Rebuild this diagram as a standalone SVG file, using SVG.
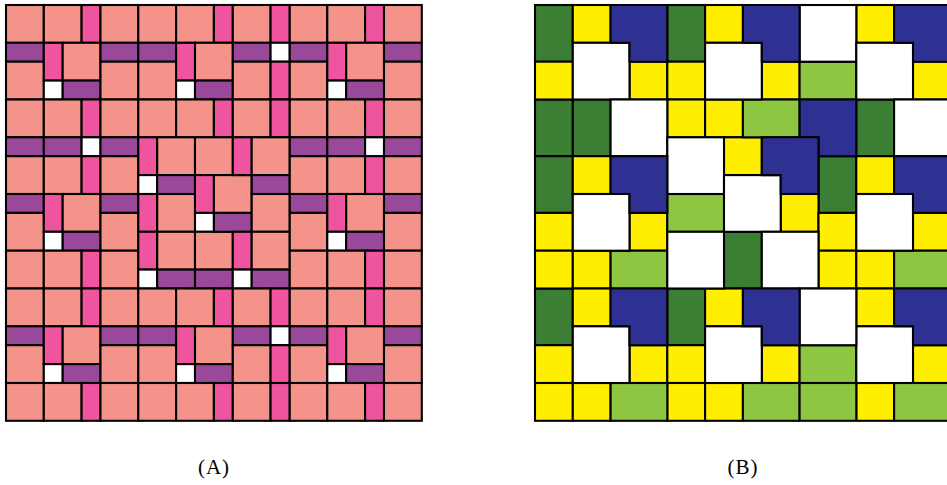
<svg xmlns="http://www.w3.org/2000/svg" xmlns:xlink="http://www.w3.org/1999/xlink" width="947" height="485" viewBox="0 0 947 485">
<style>
.t{stroke:#000;stroke-width:0.11;stroke-linejoin:miter}
.lbl{font-family:"Liberation Serif","DejaVu Serif",serif;font-size:21px;letter-spacing:1px;fill:#000;text-anchor:middle}
</style>
<defs>
<rect id="S" class="t" width="2" height="2" fill="#F4938A"/>
<rect id="P" class="t" width="1" height="2" fill="#EE559E"/>
<rect id="U" class="t" width="2" height="1" fill="#9A4899"/>
<rect id="W" class="t" width="1" height="1" fill="#FFFFFF"/>
<rect id="Y" class="t" width="2" height="2" fill="#FFEE00"/>
<rect id="G" class="t" width="2" height="3" fill="#3B7E34"/>
<rect id="LG" class="t" width="3" height="2" fill="#8DC641"/>
<rect id="WB" class="t" width="3" height="3" fill="#FFFFFF"/>
<path id="BL" class="t" d="M0 0H3V3H1V2H0Z" fill="#2E3192"/>
</defs>
<rect width="947" height="485" fill="#FFFFFF"/>

<g id="panelA" transform="translate(6,5) scale(18.9)">
  <g id="colL">
    <use href="#S" x="0" y="0"/><use href="#S" x="2" y="0"/><use href="#P" x="4" y="0"/><use href="#S" x="5" y="0"/>
    <use href="#U" x="0" y="2"/><use href="#S" x="0" y="3"/><use href="#P" x="2" y="2"/><use href="#W" x="2" y="4"/><use href="#S" x="3" y="2"/><use href="#U" x="3" y="4"/><use href="#U" x="5" y="2"/><use href="#S" x="5" y="3"/>
    <use href="#S" x="0" y="5"/><use href="#S" x="2" y="5"/><use href="#P" x="4" y="5"/><use href="#S" x="5" y="5"/>
    <use href="#U" x="0" y="7"/><use href="#U" x="2" y="7"/><use href="#W" x="4" y="7"/><use href="#U" x="5" y="7"/>
    <use href="#S" x="0" y="8"/><use href="#S" x="2" y="8"/><use href="#P" x="4" y="8"/><use href="#S" x="5" y="8"/>
    <use href="#U" x="0" y="10"/><use href="#S" x="0" y="11"/><use href="#P" x="2" y="10"/><use href="#W" x="2" y="12"/><use href="#S" x="3" y="10"/><use href="#U" x="3" y="12"/><use href="#U" x="5" y="10"/><use href="#S" x="5" y="11"/>
    <use href="#S" x="0" y="13"/><use href="#S" x="2" y="13"/><use href="#P" x="4" y="13"/><use href="#S" x="5" y="13"/>
    <use href="#S" x="0" y="15"/><use href="#S" x="2" y="15"/><use href="#P" x="4" y="15"/><use href="#S" x="5" y="15"/>
    <use href="#U" x="0" y="17"/><use href="#S" x="0" y="18"/><use href="#P" x="2" y="17"/><use href="#W" x="2" y="19"/><use href="#S" x="3" y="17"/><use href="#U" x="3" y="19"/><use href="#U" x="5" y="17"/><use href="#S" x="5" y="18"/>
    <use href="#S" x="0" y="20"/><use href="#S" x="2" y="20"/><use href="#P" x="4" y="20"/><use href="#S" x="5" y="20"/>
  </g>
  <use href="#colL" transform="translate(15,0)"/>
  <g id="colM">
    <use href="#S" x="7" y="0"/><use href="#S" x="9" y="0"/><use href="#P" x="11" y="0"/><use href="#S" x="12" y="0"/><use href="#P" x="14" y="0"/>
    <use href="#U" x="7" y="2"/><use href="#S" x="7" y="3"/><use href="#P" x="9" y="2"/><use href="#W" x="9" y="4"/><use href="#S" x="10" y="2"/><use href="#U" x="10" y="4"/><use href="#U" x="12" y="2"/><use href="#S" x="12" y="3"/><use href="#W" x="14" y="2"/><use href="#P" x="14" y="3"/>
    <use href="#S" x="7" y="5"/><use href="#S" x="9" y="5"/><use href="#P" x="11" y="5"/><use href="#S" x="12" y="5"/><use href="#P" x="14" y="5"/>
    <use href="#P" x="7" y="7"/><use href="#W" x="7" y="9"/><use href="#P" x="7" y="10"/><use href="#P" x="7" y="12"/><use href="#W" x="7" y="14"/>
    <use href="#S" x="8" y="7"/><use href="#U" x="8" y="9"/><use href="#S" x="8" y="10"/><use href="#S" x="8" y="12"/><use href="#U" x="8" y="14"/>
    <use href="#S" x="10" y="7"/><use href="#P" x="10" y="9"/><use href="#W" x="10" y="11"/><use href="#S" x="10" y="12"/><use href="#U" x="10" y="14"/>
    <use href="#S" x="11" y="9"/><use href="#U" x="11" y="11"/>
    <use href="#P" x="12" y="7"/><use href="#P" x="12" y="12"/><use href="#W" x="12" y="14"/>
    <use href="#S" x="13" y="7"/><use href="#U" x="13" y="9"/><use href="#S" x="13" y="10"/><use href="#S" x="13" y="12"/><use href="#U" x="13" y="14"/>
    <use href="#S" x="7" y="15"/><use href="#S" x="9" y="15"/><use href="#P" x="11" y="15"/><use href="#S" x="12" y="15"/><use href="#P" x="14" y="15"/>
    <use href="#U" x="7" y="17"/><use href="#S" x="7" y="18"/><use href="#P" x="9" y="17"/><use href="#W" x="9" y="19"/><use href="#S" x="10" y="17"/><use href="#U" x="10" y="19"/><use href="#U" x="12" y="17"/><use href="#S" x="12" y="18"/><use href="#W" x="14" y="17"/><use href="#P" x="14" y="18"/>
    <use href="#S" x="7" y="20"/><use href="#S" x="9" y="20"/><use href="#P" x="11" y="20"/><use href="#S" x="12" y="20"/><use href="#P" x="14" y="20"/>
  </g>
</g>

<g id="panelB" transform="translate(535,5) scale(18.9)">
  <g id="greens">
    <use href="#G" x="0" y="0"/><use href="#G" x="7" y="0"/><use href="#G" x="0" y="5"/><use href="#G" x="2" y="5"/><use href="#G" x="17" y="5"/>
    <use href="#G" x="0" y="8"/><use href="#G" x="15" y="8"/><use href="#G" x="10" y="12"/><use href="#G" x="0" y="15"/><use href="#G" x="7" y="15"/>
  </g>
  <g id="yellows">
    <use href="#Y" x="2" y="0"/><use href="#Y" x="9" y="0"/><use href="#Y" x="17" y="0"/>
    <use href="#Y" x="0" y="3"/><use href="#Y" x="5" y="3"/><use href="#Y" x="7" y="3"/><use href="#Y" x="12" y="3"/><use href="#Y" x="20" y="3"/>
    <use href="#Y" x="7" y="5"/><use href="#Y" x="9" y="5"/><use href="#Y" x="10" y="7"/><use href="#Y" x="2" y="8"/><use href="#Y" x="17" y="8"/>
    <use href="#Y" x="0" y="11"/><use href="#Y" x="5" y="11"/><use href="#Y" x="13" y="10"/><use href="#Y" x="15" y="11"/><use href="#Y" x="20" y="11"/>
    <use href="#Y" x="0" y="13"/><use href="#Y" x="2" y="13"/><use href="#Y" x="15" y="13"/><use href="#Y" x="17" y="13"/>
    <use href="#Y" x="2" y="15"/><use href="#Y" x="9" y="15"/><use href="#Y" x="17" y="15"/>
    <use href="#Y" x="0" y="18"/><use href="#Y" x="5" y="18"/><use href="#Y" x="7" y="18"/><use href="#Y" x="12" y="18"/><use href="#Y" x="20" y="18"/>
    <use href="#Y" x="0" y="20"/><use href="#Y" x="2" y="20"/><use href="#Y" x="7" y="20"/><use href="#Y" x="9" y="20"/><use href="#Y" x="17" y="20"/>
  </g>
  <g id="lightgreens">
    <use href="#LG" x="14" y="3"/><use href="#LG" x="11" y="5"/><use href="#LG" x="7" y="10"/><use href="#LG" x="4" y="13"/><use href="#LG" x="19" y="13"/>
    <use href="#LG" x="14" y="18"/><use href="#LG" x="4" y="20"/><use href="#LG" x="11" y="20"/><use href="#LG" x="14" y="20"/><use href="#LG" x="19" y="20"/>
  </g>
  <g id="whites">
    <use href="#WB" x="2" y="2"/><use href="#WB" x="9" y="2"/><use href="#WB" x="14" y="0"/><use href="#WB" x="17" y="2"/>
    <use href="#WB" x="4" y="5"/><use href="#WB" x="19" y="5"/><use href="#WB" x="7" y="7"/><use href="#WB" x="10" y="9"/>
    <use href="#WB" x="2" y="10"/><use href="#WB" x="17" y="10"/><use href="#WB" x="7" y="12"/><use href="#WB" x="12" y="12"/>
    <use href="#WB" x="2" y="17"/><use href="#WB" x="9" y="17"/><use href="#WB" x="17" y="17"/><use href="#WB" x="14" y="15"/>
  </g>
  <g id="blues">
    <use href="#BL" x="4" y="0"/><use href="#BL" x="11" y="0"/><use href="#BL" x="19" y="0"/><use href="#BL" x="14" y="5"/><use href="#BL" x="12" y="7"/>
    <use href="#BL" x="4" y="8"/><use href="#BL" x="19" y="8"/><use href="#BL" x="4" y="15"/><use href="#BL" x="11" y="15"/><use href="#BL" x="19" y="15"/>
  </g>
</g>

<text class="lbl" x="214" y="474">(A)</text>
<text class="lbl" x="743" y="474">(B)</text>
</svg>
